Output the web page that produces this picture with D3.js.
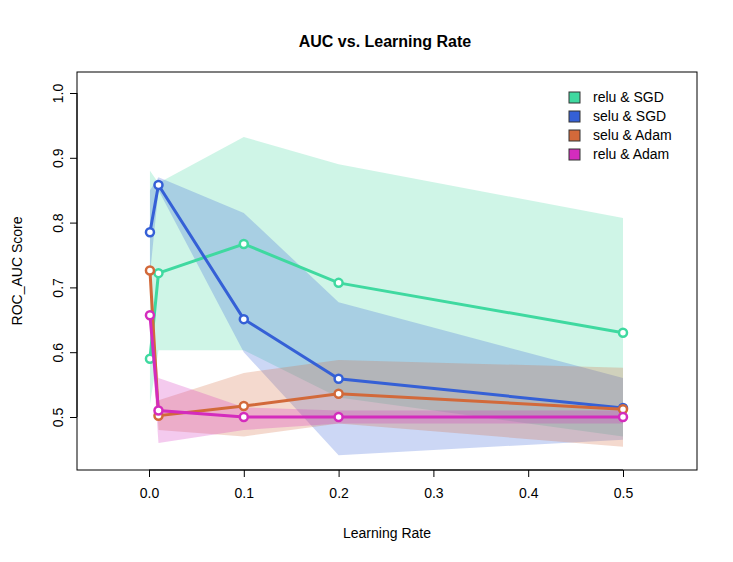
<!DOCTYPE html><html><head><meta charset="utf-8"><script src="https://d3js.org/d3.v7.min.js"></script>
<style>body{margin:0;background:#fff}text{font-family:"Liberation Sans",Arial,sans-serif}</style></head><body><svg id="c" width="733" height="562"></svg><script>
const lr=[0.001,0.01,0.1,0.2,0.5];
const names=["relu & SGD","selu & SGD","selu & Adam","relu & Adam"];
const colors=["#3fd9a0","#3560d6","#d2693a","#d42cbd"];
const means=[[0.59,0.722,0.767,0.707,0.63],[0.785,0.858,0.651,0.559,0.514],[0.726,0.502,0.517,0.536,0.512],[0.657,0.51,0.5,0.5,0.5]];
const upper=[[0.88,0.861,0.932,0.89,0.807],[0.85,0.87,0.815,0.677,0.56],[0.74,0.526,0.568,0.588,0.576],[0.665,0.56,0.515,0.51,0.51]];
const lower=[[0.52,0.603,0.603,0.53,0.47],[0.72,0.85,0.6,0.441,0.465],[0.71,0.48,0.47,0.49,0.454],[0.645,0.46,0.48,0.49,0.49]];
const xTicks=[0,0.1,0.2,0.3,0.4,0.5], yTicks=[0.5,0.6,0.7,0.8,0.9,1.0];
const svg=d3.select("#c");
const x=d3.scaleLinear().domain([0,0.5]).range([149,623]);
const y=d3.scaleLinear().domain([0.5,1.0]).range([417,93]);
const L=77,R=697,T=72,B=470;
svg.append("text").attr("x",385).attr("y",47).attr("text-anchor","middle").attr("font-weight","bold").attr("font-size",16).text("AUC vs. Learning Rate");
names.forEach((n,i)=>{
 const area=d3.area().x((d,j)=>x(lr[j])).y0((d,j)=>y(lower[i][j])).y1((d,j)=>y(upper[i][j]));
 svg.append("path").attr("d",area(lr)).attr("fill",colors[i]).attr("fill-opacity",0.25);
});
names.forEach((n,i)=>{
 const line=d3.line().x((d,j)=>x(lr[j])).y(d=>y(d));
 svg.append("path").attr("d",line(means[i])).attr("fill","none").attr("stroke",colors[i]).attr("stroke-width",3);
 svg.selectAll(null).data(means[i]).enter().append("circle").attr("cx",(d,j)=>x(lr[j])).attr("cy",d=>y(d)).attr("r",4).attr("fill","#fff").attr("stroke",colors[i]).attr("stroke-width",2.5);
});
svg.append("rect").attr("x",L).attr("y",T).attr("width",R-L).attr("height",B-T).attr("fill","none").attr("stroke","#000");
const xa=svg.append("g").attr("transform",`translate(0,${B})`).call(d3.axisBottom(x).tickValues(xTicks).tickFormat(d3.format(".1f")).tickSize(7).tickSizeOuter(0));
const ya=svg.append("g").attr("transform",`translate(${L},0)`).call(d3.axisLeft(y).tickValues(yTicks).tickFormat(d3.format(".1f")).tickSize(7).tickSizeOuter(0));
[xa,ya].forEach(a=>{a.select(".domain").remove();a.selectAll("text").attr("font-size",14).attr("fill","#000");});
xa.append("path").attr("d",`M${x(0)},0H${x(0.5)}`).attr("stroke","#000");
ya.append("path").attr("d",`M0,${y(0.5)}V${y(1)}`).attr("stroke","#000");
xa.selectAll("text").attr("dy","1.3em");
ya.selectAll(".tick text").attr("transform","rotate(-90)").attr("x",0).attr("y",-14).attr("dy",0).attr("text-anchor","middle");
svg.append("text").attr("x",387).attr("y",538).attr("text-anchor","middle").attr("font-size",14).text("Learning Rate");
svg.append("text").attr("transform","translate(22,271) rotate(-90)").attr("text-anchor","middle").attr("font-size",14).text("ROC_AUC Score");
names.forEach((n,i)=>{
 const g=svg.append("g").attr("transform",`translate(569,${92+i*19})`);
 g.append("rect").attr("width",11).attr("height",11).attr("fill",colors[i]).attr("stroke","#333");
 g.append("text").attr("x",24).attr("y",10).attr("font-size",14).text(n);
});
</script></body></html>
